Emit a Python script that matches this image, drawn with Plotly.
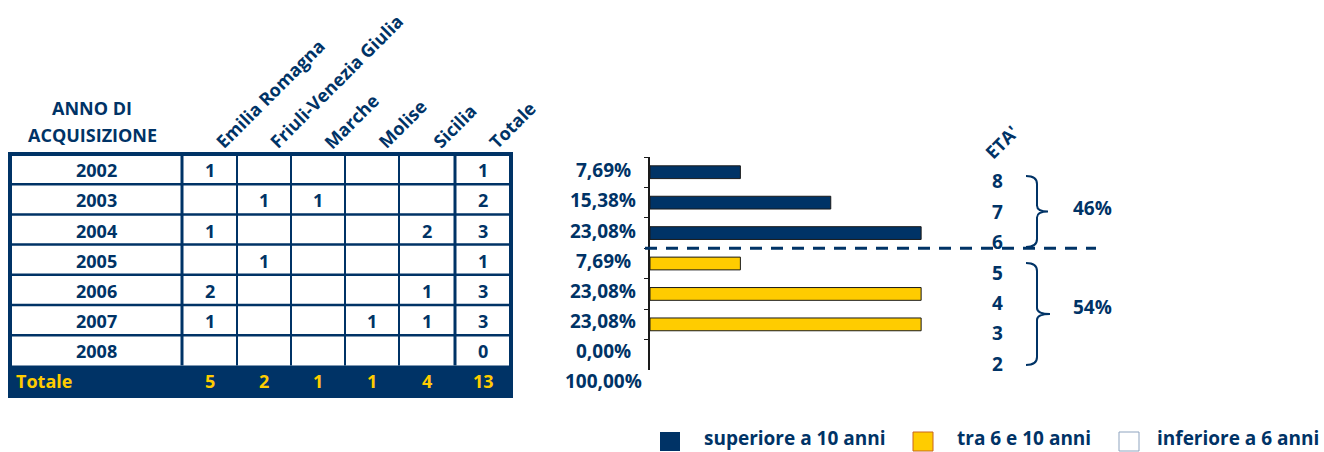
import plotly.graph_objects as go

# ---------------- data ----------------
years = ["2002", "2003", "2004", "2005", "2006", "2007", "2008"]
regions = ["Emilia Romagna", "Friuli-Venezia Giulia", "Marche", "Molise", "Sicilia"]
emilia_romagna = [1, None, 1, None, 2, 1, None]
friuli_vg = [None, 1, None, 1, None, None, None]
marche = [None, 1, None, None, None, None, None]
molise = [None, None, None, None, None, 1, None]
sicilia = [None, None, 2, None, 1, 1, None]
region_counts = [emilia_romagna, friuli_vg, marche, molise, sicilia]

ages = ["8", "7", "6", "5", "4", "3", "2"]
age_groups = ["superiore a 10 anni", "tra 6 e 10 anni", "inferiore a 6 anni"]
group_of_row = [0, 0, 0, 1, 1, 1, 2]
group_share_labels = ["46%", "54%"]

NAVY = "#003366"
YELLOW = "#FFCC00"
group_colors = [NAVY, YELLOW, "#FFFFFF"]
group_borders = [NAVY, "#C8641E", "#8FA4BF"]

W, H = 1324, 452

def px(x):
    return x / W

def py(y):
    return 1 - y / H

row_totals = [sum(v[i] or 0 for v in region_counts) for i in range(len(years))]
col_totals = [sum(c or 0 for c in v) for v in region_counts]
grand_total = sum(row_totals)
percents = [t / grand_total * 100 for t in row_totals]

def fmt_pct(v):
    return f"{v:.2f}%".replace(".", ",")

fig = go.Figure()

# ---------------- bars ----------------
for g, name in enumerate(age_groups):
    ys = [ages[i] for i in range(len(years)) if group_of_row[i] == g]
    xs = [percents[i] for i in range(len(years)) if group_of_row[i] == g]
    fig.add_trace(go.Bar(
        x=xs, y=ys, orientation="h", name=name, width=0.42, showlegend=False,
        marker=dict(color=group_colors[g], line=dict(color="#1a1a1a", width=1 if g < 2 else 0)),
        hoverinfo="skip",
    ))

# ---------------- table geometry ----------------
col_edges = [10, 182, 237, 291, 345, 399, 455, 511]
row_top = 154
row_h = 30.2
row_edges = [row_top + i * row_h for i in range(len(years) + 1)]
table_bottom = 396

shapes = []
annotations = []

shapes.append(dict(type="rect", xref="paper", yref="paper",
                   x0=px(col_edges[0]), x1=px(col_edges[-1]),
                   y0=py(table_bottom), y1=py(row_edges[-1]),
                   fillcolor=NAVY, line=dict(width=0), layer="below"))
for y in row_edges[1:-1]:
    shapes.append(dict(type="line", xref="paper", yref="paper",
                       x0=px(col_edges[0]), x1=px(col_edges[-1]), y0=py(y), y1=py(y),
                       line=dict(color=NAVY, width=2.5)))
for j, x in enumerate(col_edges[1:-1]):
    wdt = 3 if j in (0, len(col_edges) - 3) else 2
    shapes.append(dict(type="line", xref="paper", yref="paper",
                       x0=px(x), x1=px(x), y0=py(row_edges[0]), y1=py(row_edges[-1]),
                       line=dict(color=NAVY, width=wdt)))
shapes.append(dict(type="rect", xref="paper", yref="paper",
                   x0=px(col_edges[0]), x1=px(col_edges[-1]),
                   y0=py(table_bottom), y1=py(row_edges[0]),
                   line=dict(color=NAVY, width=4)))

def txt(x, y, s, color=NAVY, size=18, xanchor="center", angle=0, yanchor="middle"):
    annotations.append(dict(x=px(x), y=py(y), xref="paper", yref="paper", text=s,
                            showarrow=False, xanchor=xanchor, yanchor=yanchor,
                            textangle=angle, font=dict(color=color, size=size)))

row_centers = [(row_edges[i] + row_edges[i + 1]) / 2 + 1 for i in range(len(years))]
tot_center = (row_edges[-1] + table_bottom) / 2

for i, yr in enumerate(years):
    txt((col_edges[0] + col_edges[1]) / 2, row_centers[i], yr)
    for j, vals in enumerate(region_counts):
        if vals[i] is not None:
            txt((col_edges[j + 1] + col_edges[j + 2]) / 2, row_centers[i], str(vals[i]))
    txt((col_edges[-2] + col_edges[-1]) / 2, row_centers[i], str(row_totals[i]))
    txt(603, row_centers[i], fmt_pct(percents[i]), size=19)

txt(14, tot_center, "Totale", color=YELLOW, xanchor="left")
for j, t in enumerate(col_totals):
    txt((col_edges[j + 1] + col_edges[j + 2]) / 2, tot_center, str(t), color=YELLOW)
txt((col_edges[-2] + col_edges[-1]) / 2, tot_center, str(grand_total), color=YELLOW)
txt(603, tot_center, fmt_pct(sum(percents)), size=19)

# header
txt(92, 108, "ANNO DI", size=18)
txt(92, 135, "ACQUISIZIONE", size=18)
headers = regions + ["Totale"]
for j, h in enumerate(headers):
    cx = (col_edges[j + 1] + col_edges[j + 2]) / 2
    txt(cx - 2, 156, h, size=18, xanchor="left", yanchor="bottom", angle=-45)

# ---------------- right side: ages, braces, dashed line ----------------
for i, a in enumerate(ages):
    annotations.append(dict(x=px(1005), y=i, xref="paper", yref="y", text=a, yshift=-9,
                            showarrow=False, font=dict(color=NAVY, size=19)))
txt(977, 167, "ETA'", size=18, xanchor="left", yanchor="bottom", angle=-45)

def brace(y0, y1, xs=1026, xm=1037, xt=1048):
    ym = (y0 + y1) / 2
    p = (f"M {px(xs)},{py(y0)} Q {px(xm)},{py(y0)} {px(xm)},{py(y0 + 8)} "
         f"L {px(xm)},{py(ym - 6)} Q {px(xm)},{py(ym)} {px(xt)},{py(ym)} "
         f"Q {px(xm)},{py(ym)} {px(xm)},{py(ym + 6)} "
         f"L {px(xm)},{py(y1 - 8)} Q {px(xm)},{py(y1)} {px(xs)},{py(y1)}")
    shapes.append(dict(type="path", xref="paper", yref="paper", path=p,
                       line=dict(color=NAVY, width=2)))
    return ym

ym1 = brace(176, 247)
ym2 = brace(263, 365, xt=1050)
txt(1092, ym1 - 4, group_share_labels[0], size=19)
txt(1092, ym2 - 7, group_share_labels[1], size=19)

shapes.append(dict(type="line", xref="paper", yref="y", x0=px(645), x1=px(1096),
                   y0=2.5, y1=2.5, line=dict(color=NAVY, width=3, dash="12px,9px")))

# ---------------- legend (manual) ----------------
legend_sq_x = [660, 913, 1119]
legend_txt_x = [702, 955, 1155]
for g, name in enumerate(age_groups):
    x0 = legend_sq_x[g]
    shapes.append(dict(type="rect", xref="paper", yref="paper",
                       x0=px(x0), x1=px(x0 + 20), y0=py(451), y1=py(432),
                       fillcolor=group_colors[g],
                       line=dict(color=group_borders[g], width=1 if g else 0)))
    txt(legend_txt_x[g], 438, name, size=19, xanchor="left")

fig.update_layout(
    width=W, height=H, margin=dict(l=0, r=0, t=0, b=0),
    paper_bgcolor="white", plot_bgcolor="white",
    font=dict(family="Open Sans", weight="bold", color=NAVY, size=16),
    barmode="overlay", showlegend=False,
    shapes=shapes, annotations=annotations,
    xaxis=dict(domain=[px(650), px(1100)], range=[0, 38.3], visible=False, fixedrange=True),
    yaxis=dict(domain=[py(370), py(157)], type="category", categoryorder="array",
               categoryarray=ages, range=[6.5, -0.5], autorange=False, showticklabels=False,
               showline=True, linecolor="#1a1a1a", linewidth=1.5, ticks="outside",
               tickson="boundaries", ticklen=4, tickcolor="#1a1a1a", showgrid=False,
               zeroline=False, fixedrange=True),
)

fig.write_html("out.html", config={"displayModeBar": False},
               post_script="document.body.style.margin='0px';")
